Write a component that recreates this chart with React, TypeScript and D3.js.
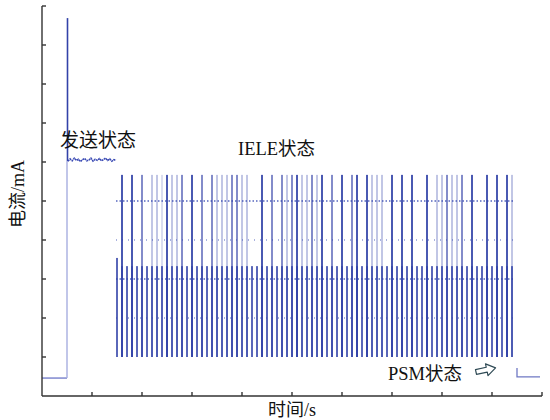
import * as React from "react";
import * as d3 from "d3";

// time axis 0..10 (s, unlabelled), current axis 0..10 (mA, unlabelled)
const xTicks = [1, 2, 3, 4, 5, 6, 7, 8, 9, 10];
const yTicks = [1, 2, 3, 4, 5, 6, 7, 8, 9, 10];

// sleep current before the burst
const baseLevel = 0.46;
const burstTime = 0.5;
const burstPeak = 9.69;

// 发送状态: noisy plateau sampled from t=0.52 to t=1.48
const txStart = 0.52;
const txEnd = 1.48;
const txValues = [
  6.02, 6.08, 6.03, 6.1, 6.04, 6.07, 6.01, 6.06, 6.09, 6.03, 6.05, 6.1,
  6.02, 6.07, 6.04, 6.09, 6.03, 6.06, 6.1, 6.04, 6.08, 6.02, 6.06, 6.05,
];

// IELE状态: connection events (time, s)
const eventTimes = [
  1.5, 1.6, 1.7, 1.8, 1.9, 2.0, 2.1, 2.2, 2.3, 2.4, 2.5, 2.6, 2.7, 2.8, 2.9,
  3.0, 3.1, 3.2, 3.3, 3.4, 3.5, 3.6, 3.7, 3.8, 3.9, 4.0, 4.1, 4.2, 4.3, 4.4,
  4.5, 4.6, 4.7, 4.8, 4.9, 5.0, 5.1, 5.2, 5.3, 5.4, 5.5, 5.6, 5.7, 5.8, 5.9,
  6.0, 6.1, 6.2, 6.3, 6.4, 6.5, 6.6, 6.7, 6.8, 6.9, 7.0, 7.1, 7.2, 7.3, 7.4,
  7.5, 7.6, 7.7, 7.8, 7.9, 8.0, 8.1, 8.2, 8.3, 8.4, 8.5, 8.6, 8.7, 8.8, 8.9,
  9.0, 9.1, 9.2, 9.3, 9.4,
];
// duration of the tall spike in each event (ms), 0 = no spike
const spikeMs = [
  0, 35, 0, 35, 0, 24, 0, 12, 12, 7, 35, 12, 12, 24, 0,
  35, 0, 24, 0, 24, 12, 12, 12, 24, 24, 12, 12, 0, 0, 35,
  0, 24, 0, 24, 12, 24, 35, 12, 12, 24, 12, 35, 0, 24, 0,
  35, 0, 24, 35, 0, 35, 12, 12, 12, 0, 35, 0, 35, 0, 35,
  0, 0, 35, 0, 12, 12, 24, 12, 12, 24, 0, 35, 0, 0, 35,
  0, 35, 0, 35, 12,
];
const eventMs = 32;
const eventFloor = 1.0;
const eventMid = 3.33;
const firstEventMid = 3.54;
const spikeTop = 5.67;
// dotted traces across the event train
const dotLevels = [5.0, 4.0, 3.0, 2.0];

// PSM状态 tail
const psmStart = 9.5;
const psmEnd = 9.96;
const psmStep = 0.72;
const psmLevel = 0.49;

const W = 550;
const H = 420;
const DARK = "#3242a8";
const LIGHT = "#a7aee0";
const FONT = "'Liberation Serif', 'Noto Sans CJK SC', serif";

export default function App() {
  const x = d3.scaleLinear().domain([0, 10]).range([42, 542]);
  const y = d3.scaleLinear().domain([0, 10]).range([396, 6]);
  const ms = (v: number) => x(v / 1000) - x(0);

  const txX = d3.scaleLinear().domain([0, txValues.length - 1]).range([txStart, txEnd]);
  const txLine = d3
    .line<number>()
    .x((v, i) => x(txX(i)))
    .y((v) => y(v))(txValues);

  const trainStart = eventTimes[0] - 0.02;
  const trainEnd = eventTimes[eventTimes.length - 1] + 0.02;

  return (
    <svg
      width={W}
      height={H}
      style={{ position: "absolute", left: 0, top: 0, background: "#fff" }}
    >
      {/* dotted traces */}
      {dotLevels.map((lv, i) => (
        <line
          key={`dot-${lv}`}
          x1={x(trainStart)}
          x2={x(trainEnd)}
          y1={y(lv)}
          y2={y(lv)}
          stroke="#4455b8"
          strokeWidth={1.3}
          strokeDasharray={i % 2 === 0 ? "1.5 2" : "1 5"}
          opacity={i % 2 === 0 ? 0.9 : 0.6}
        />
      ))}

      {/* event bodies */}
      {eventTimes.map((t, i) => (
        <rect
          key={`ev-${t}`}
          x={x(t) - ms(eventMs) / 2}
          width={ms(eventMs)}
          y={y(i === 0 ? firstEventMid : eventMid)}
          height={y(eventFloor) - y(i === 0 ? firstEventMid : eventMid)}
          fill={DARK}
        />
      ))}

      {/* tall spikes */}
      {eventTimes.map((t, i) =>
        spikeMs[i] > 0 ? (
          <rect
            key={`sp-${t}`}
            x={x(t) - ms(spikeMs[i]) / 2}
            width={ms(spikeMs[i])}
            y={y(spikeTop)}
            height={y(eventFloor) - y(spikeTop)}
            fill={DARK}
          />
        ) : null,
      )}

      {/* baseline, burst edge and spike */}
      <polyline
        points={`${x(0)},${y(baseLevel)} ${x(burstTime)},${y(baseLevel)}`}
        fill="none"
        stroke="#7f88cf"
        strokeWidth={1.5}
      />
      <line
        x1={x(burstTime)}
        x2={x(burstTime)}
        y1={y(baseLevel)}
        y2={y(txValues[0])}
        stroke={LIGHT}
        strokeWidth={1.4}
      />
      <line
        x1={x(burstTime) + 0.5}
        x2={x(burstTime) + 0.5}
        y1={y(txValues[0])}
        y2={y(burstPeak)}
        stroke={DARK}
        strokeWidth={1.6}
      />
      <path d={txLine ?? ""} fill="none" stroke="#3a4ab4" strokeWidth={1.5} strokeDasharray="2 0.6" />

      {/* PSM tail */}
      <polyline
        points={`${x(psmStart)},${y(psmStep)} ${x(psmStart)},${y(psmLevel)} ${x(psmEnd)},${y(psmLevel)}`}
        fill="none"
        stroke="#6f78c4"
        strokeWidth={1.3}
      />

      {/* axes */}
      <g stroke="#333" strokeWidth={1.4} fill="none">
        <line x1={x(0)} x2={x(0)} y1={y(10)} y2={y(0)} />
        <line x1={x(0)} x2={x(10)} y1={y(0)} y2={y(0)} />
        {yTicks.map((t) => (
          <line key={`yt-${t}`} x1={x(0)} x2={x(0) + 4} y1={y(t)} y2={y(t)} />
        ))}
        {xTicks.map((t) => (
          <line key={`xt-${t}`} x1={x(t)} x2={x(t)} y1={y(0)} y2={y(0) - 4} />
        ))}
      </g>

      {/* labels */}
      <g fontFamily={FONT} fill="#111">
        <text
          transform={`translate(24,${(y(10) + y(0)) / 2 - 7}) rotate(-90)`}
          textAnchor="middle"
          fontSize={18}
        >
          电流/mA
        </text>
        <text x={292} y={416} textAnchor="middle" fontSize={18}>
          时间/s
        </text>
        <text x={60} y={147} fontSize={19}>
          发送状态
        </text>
        <text x={238} y={155} fontSize={18.5}>
          IELE状态
        </text>
        <text x={388} y={380} fontSize={18.5}>
          PSM状态
        </text>
      </g>

      {/* hollow arrow pointing at the PSM tail */}
      <path
        transform="translate(476,372) rotate(-12)"
        d="M0,-2.5 L11,-2.5 L11,-6 L20,0 L11,6 L11,2.5 L0,2.5 Z"
        fill="#fff"
        stroke="#2f4a55"
        strokeWidth={1.2}
        strokeLinejoin="round"
      />
    </svg>
  );
}
